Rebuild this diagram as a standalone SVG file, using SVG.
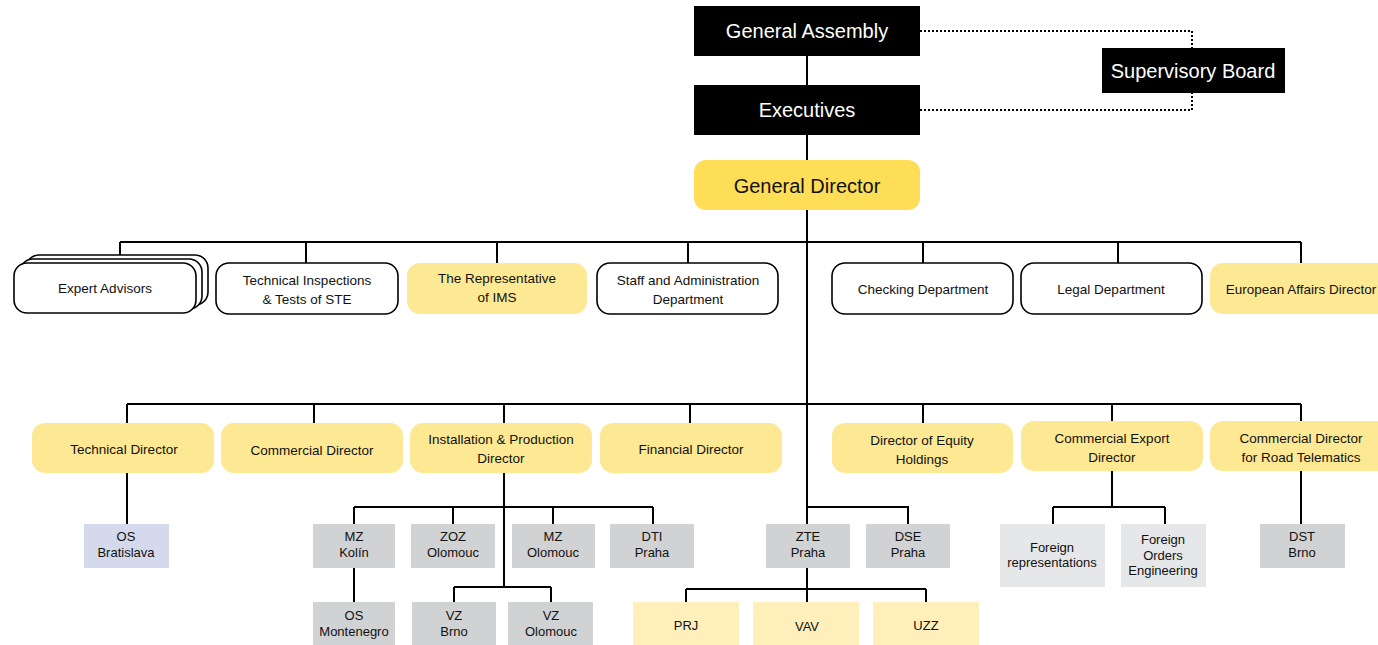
<svg xmlns="http://www.w3.org/2000/svg" width="1378" height="645" viewBox="0 0 1378 645">
<style>
text{font-family:"Liberation Sans",Arial,sans-serif;text-anchor:middle;fill:#111}
.big{font-size:20px}
.w{fill:#fff}
.m{font-size:13.5px}
.s{font-size:13px}
.blk{fill:#000}
.gd{fill:#fedd57}
.wb{fill:#fff;stroke:#000;stroke-width:1.6}
.ly{fill:#fde993}
.py{fill:#fff0bb}
.gr{fill:#d1d2d4}
.lg{fill:#e6e7e8}
.bl{fill:#d4daec}
.c{fill:none;stroke:#000;stroke-width:2}
.d{fill:none;stroke:#000;stroke-width:2;stroke-dasharray:2 2}
</style>
<g id="connectors">
<path class="c" d="M807 56V85M807 135V160M807 210V524"/>
<path class="d" d="M920 31H1192V48M920 110H1192V93"/>
<path class="c" d="M120 242H1301M120 242V255M306 242V263M497 242V263M688 242V263M923 242V263M1118 242V263M1301 242V263"/>
<path class="c" d="M127 404H1301M127 404V423M314 404V423M504 404V423M690 404V423M923 404V423M1112 404V421M1301 404V421"/>
<path class="c" d="M127 473V524"/>
<path class="c" d="M504 473V587M354 507H653M354 507V524M453 507V524M553 507V524M653 507V524"/>
<path class="c" d="M354 568V602M454 587H551M454 587V602M551 587V602"/>
<path class="c" d="M807 507H908V524"/>
<path class="c" d="M807 568V602M686 589H926M686 589V602M926 589V602"/>
<path class="c" d="M1112 471V507M1053 507H1165M1053 507V524M1165 507V524"/>
<path class="c" d="M1301 471V524"/>
</g>
<g id="general-assembly"><rect class="blk" x="694" y="6" width="226" height="50"/><text class="big w" x="807" y="38">General Assembly</text></g>
<g id="executives"><rect class="blk" x="694" y="85" width="226" height="50"/><text class="big w" x="807" y="117">Executives</text></g>
<g id="supervisory-board"><rect class="blk" x="1102" y="48" width="183" height="45"/><text class="big w" x="1193" y="78">Supervisory Board</text></g>
<g id="general-director"><rect class="gd" x="694" y="160" width="226" height="50" rx="12"/><text class="big" x="807" y="193">General Director</text></g>

<g id="expert-advisors">
<rect class="wb" x="26" y="255" width="182" height="50" rx="13"/>
<rect class="wb" x="20" y="259" width="182" height="50" rx="13"/>
<rect class="wb" x="14" y="263" width="182" height="50" rx="13"/>
<text class="m" x="105" y="293">Expert Advisors</text></g>
<g id="technical-inspections"><rect class="wb" x="216" y="263" width="182" height="51" rx="13"/><text class="m" x="307" y="285">Technical Inspections</text><text class="m" x="307" y="304">&amp; Tests of STE</text></g>
<g id="representative-ims"><rect class="ly" x="407" y="263" width="180" height="51" rx="13"/><text class="m" x="497" y="283">The Representative</text><text class="m" x="497" y="302">of IMS</text></g>
<g id="staff-admin"><rect class="wb" x="597" y="263" width="181" height="51" rx="13"/><text class="m" x="688" y="285">Staff and Administration</text><text class="m" x="688" y="304">Department</text></g>
<g id="checking"><rect class="wb" x="832" y="263" width="181" height="51" rx="13"/><text class="m" x="923" y="294">Checking Department</text></g>
<g id="legal"><rect class="wb" x="1021" y="263" width="181" height="51" rx="13"/><text class="m" x="1111" y="294">Legal Department</text></g>
<g id="european-affairs"><rect class="ly" x="1210" y="263" width="190" height="51" rx="13"/><text class="m" x="1301" y="294">European Affairs Director</text></g>

<g id="technical-director"><rect class="ly" x="32" y="423" width="182" height="50" rx="13"/><text class="m" x="124" y="454">Technical Director</text></g>
<g id="commercial-director"><rect class="ly" x="221" y="423" width="182" height="50" rx="13"/><text class="m" x="312" y="455">Commercial Director</text></g>
<g id="installation-director"><rect class="ly" x="410" y="423" width="182" height="50" rx="13"/><text class="m" x="501" y="444">Installation &amp; Production</text><text class="m" x="501" y="463">Director</text></g>
<g id="financial-director"><rect class="ly" x="600" y="423" width="182" height="50" rx="13"/><text class="m" x="691" y="454">Financial Director</text></g>
<g id="equity-director"><rect class="ly" x="832" y="423" width="181" height="50" rx="13"/><text class="m" x="922" y="445">Director of Equity</text><text class="m" x="922" y="464">Holdings</text></g>
<g id="export-director"><rect class="ly" x="1021" y="421" width="182" height="50" rx="13"/><text class="m" x="1112" y="443">Commercial Export</text><text class="m" x="1112" y="462">Director</text></g>
<g id="road-telematics"><rect class="ly" x="1210" y="421" width="190" height="50" rx="13"/><text class="m" x="1301" y="443">Commercial Director</text><text class="m" x="1301" y="462">for Road Telematics</text></g>

<g id="os-bratislava"><rect class="bl" x="84" y="524" width="85" height="44"/><text class="s" x="126" y="541">OS</text><text class="s" x="126" y="557">Bratislava</text></g>
<g id="mz-kolin"><rect class="gr" x="313" y="524" width="82" height="44"/><text class="s" x="354" y="541">MZ</text><text class="s" x="354" y="557">Kolín</text></g>
<g id="zoz-olomouc"><rect class="gr" x="411" y="524" width="84" height="44"/><text class="s" x="453" y="541">ZOZ</text><text class="s" x="453" y="557">Olomouc</text></g>
<g id="mz-olomouc"><rect class="gr" x="512" y="524" width="83" height="44"/><text class="s" x="553" y="541">MZ</text><text class="s" x="553" y="557">Olomouc</text></g>
<g id="dti-praha"><rect class="gr" x="610" y="524" width="84" height="44"/><text class="s" x="652" y="541">DTI</text><text class="s" x="652" y="557">Praha</text></g>
<g id="os-montenegro"><rect class="gr" x="313" y="602" width="82" height="43"/><text class="s" x="354" y="620">OS</text><text class="s" x="354" y="636">Montenegro</text></g>
<g id="vz-brno"><rect class="gr" x="412" y="602" width="84" height="43"/><text class="s" x="454" y="620">VZ</text><text class="s" x="454" y="636">Brno</text></g>
<g id="vz-olomouc"><rect class="gr" x="508" y="602" width="85" height="43"/><text class="s" x="551" y="620">VZ</text><text class="s" x="551" y="636">Olomouc</text></g>
<g id="zte-praha"><rect class="gr" x="766" y="524" width="84" height="44"/><text class="s" x="808" y="541">ZTE</text><text class="s" x="808" y="557">Praha</text></g>
<g id="dse-praha"><rect class="gr" x="866" y="524" width="84" height="44"/><text class="s" x="908" y="541">DSE</text><text class="s" x="908" y="557">Praha</text></g>
<g id="prj"><rect class="py" x="633" y="602" width="106" height="43"/><text class="s" x="686" y="630">PRJ</text></g>
<g id="vav"><rect class="py" x="753" y="602" width="106" height="43"/><text class="s" x="807" y="631">VAV</text></g>
<g id="uzz"><rect class="py" x="873" y="602" width="106" height="43"/><text class="s" x="926" y="630">UZZ</text></g>
<g id="foreign-representations"><rect class="lg" x="1000" y="524" width="105" height="63"/><text class="s" x="1052" y="552">Foreign</text><text class="s" x="1052" y="567">representations</text></g>
<g id="foreign-orders"><rect class="lg" x="1121" y="524" width="85" height="63"/><text class="s" x="1163" y="544">Foreign</text><text class="s" x="1163" y="560">Orders</text><text class="s" x="1163" y="575">Engineering</text></g>
<g id="dst-brno"><rect class="gr" x="1260" y="524" width="85" height="44"/><text class="s" x="1302" y="541">DST</text><text class="s" x="1302" y="557">Brno</text></g>
</svg>
